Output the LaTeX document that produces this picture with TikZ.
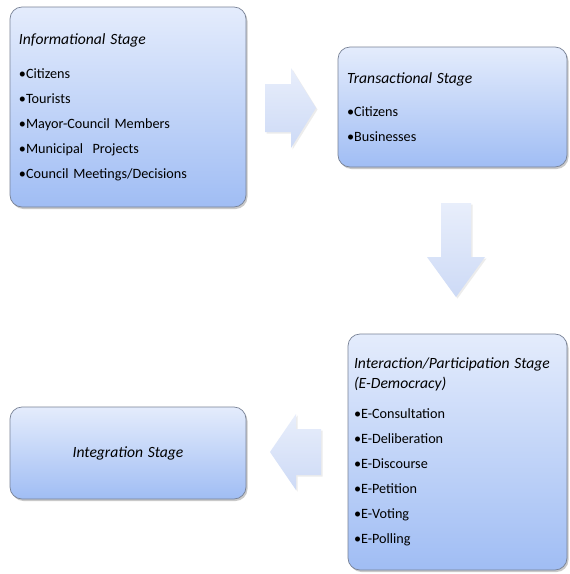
\documentclass[tikz,border=0pt]{standalone}
\usepackage{fontspec}
\setmainfont{Carlito}
\usetikzlibrary{shadows,calc}
\definecolor{boxtop}{RGB}{228,236,252}
\definecolor{boxbot}{RGB}{160,189,244}
\definecolor{boxline}{RGB}{120,130,150}
\definecolor{arrtop}{RGB}{232,238,251}
\definecolor{arrbot}{RGB}{205,218,246}
\tikzset{
  stagebox/.style={draw=boxline, line width=0.7pt, rounded corners=12pt,
    top color=boxtop, bottom color=boxbot, inner xsep=9pt, inner ysep=4pt,
    font=\fontsize{14.2}{25}\selectfont, align=left, text=black,
    drop shadow={shadow xshift=1.5pt, shadow yshift=-2pt, opacity=0.35, fill=black!60}},
  blockarrow/.style={top color=arrtop, bottom color=arrbot, draw=none,
    drop shadow={shadow xshift=1.5pt, shadow yshift=-1.5pt, opacity=0.15, fill=black!50}}
}
\newcommand{\stitle}[1]{{\fontsize{15.6}{20}\selectfont\textit{#1}}}
\begin{document}
\begin{tikzpicture}[x=1pt,y=-1pt]
\useasboundingbox[fill=white] (0,0) rectangle (570,574);
% boxes
\node[stagebox, minimum width=236pt, minimum height=200pt, text width=218pt] (b1) at (128,107)
 {\stitle{Informational Stage}\\[9pt]
  •Citizens\\ •Tourists\\ •Mayor-Council Members\\ •Municipal\ \ Projects\\ •Council Meetings/Decisions};
\node[stagebox, minimum width=229pt, minimum height=120pt, text width=211pt] (b2) at (452.5,107)
 {\stitle{Transactional Stage}\\[8pt]
  •Citizens\\ •Businesses};
\node[stagebox, minimum width=219pt, minimum height=236pt, text width=207pt, inner xsep=6pt] (b3) at (457.5,452)
 {\stitle{Interaction/Participation Stage}\\[-5pt]
  \stitle{(E-Democracy)}\\[5pt]
  •E-Consultation\\ •E-Deliberation\\ •E-Discourse\\ •E-Petition\\ •E-Voting\\ •E-Polling};
\node[stagebox, minimum width=236pt, minimum height=92pt, text width=218pt, align=center] (b4) at (128,453)
 {\stitle{Integration Stage}};
% block arrows
\path[blockarrow] (265,84) -- (291,84) -- (291,68) -- (316,108) -- (291,148) -- (291,132) -- (265,132) -- cycle;
\path[blockarrow] (441,203) -- (471,203) -- (471,257) -- (485,257) -- (456,297) -- (427,257) -- (441,257) -- cycle;
\path[blockarrow] (321,429) -- (296,429) -- (296,414) -- (270,452) -- (296,490) -- (296,475) -- (321,475) -- cycle;
\end{tikzpicture}
\end{document}
